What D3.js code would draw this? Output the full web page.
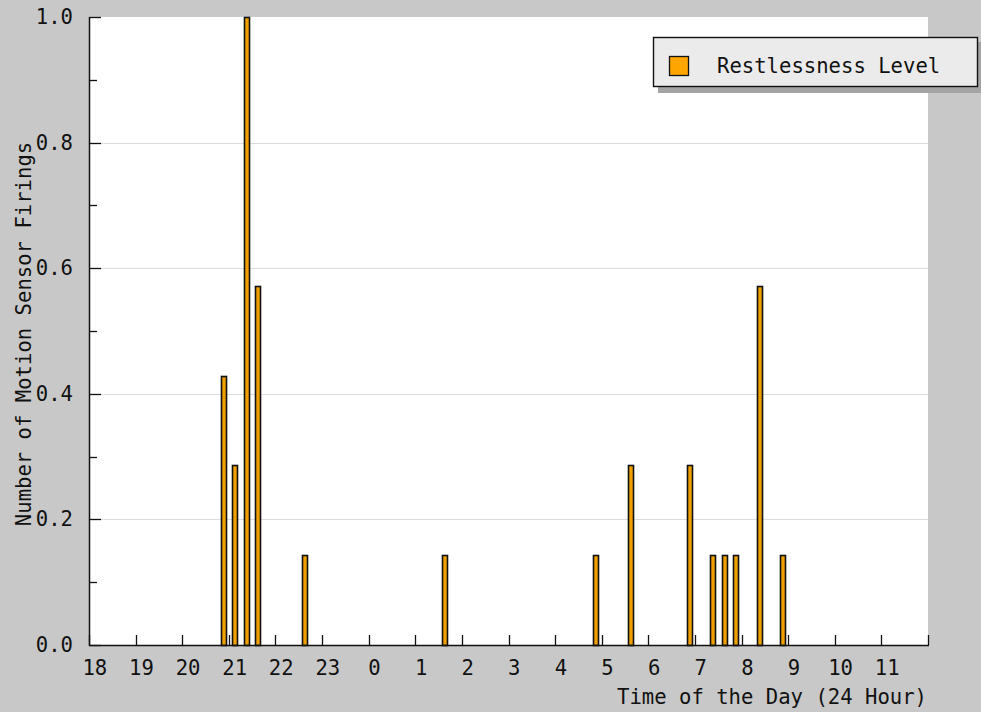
<!DOCTYPE html>
<html><head><meta charset="utf-8">
<script src="https://cdn.jsdelivr.net/npm/d3@7"></script>
<style>
body{margin:0;background:#c8c8c8;}
svg{display:block;}
text{font-family:"DejaVu Sans Mono","Liberation Mono",monospace;fill:#111;}
</style>
</head><body><svg id="c" width="981" height="712"></svg>
<script>
// ---- data ----
const hourLabels = ["18","19","20","21","22","23","0","1","2","3","4","5","6","7","8","9","10","11"];
const quarterLabels = ["00","15","30","45"];
const binStarts = ["20:45","21:00","21:15","21:30","22:30","01:30","04:45","05:30","06:45","07:15","07:30","07:45","08:15","08:45"];
const restlessness = [0.429,0.286,1.0,0.571,0.143,0.143,0.143,0.286,0.286,0.143,0.143,0.143,0.571,0.143];
const yTickValues = [0.0,0.2,0.4,0.6,0.8,1.0];
const yMinorValues = [0.1,0.3,0.5,0.7,0.9];
const seriesName = "Restlessness Level";
const yTitle = "Number of Motion Sensor Firings";
const xTitle = "Time of the Day (24 Hour)";

// ---- layout ----
const L = 89, R = 928, T = 17, B = 645;
const FS = 20.6;
const svg = d3.select("#c");
const fmtBin = (h, q) => h.padStart(2, "0") + ":" + q;
const bins = hourLabels.flatMap(h => quarterLabels.map(q => fmtBin(h, q)));
const x = d3.scaleBand().domain(bins).range([L, R]).padding(0);
const y = d3.scaleLinear().domain([0, 1]).range([B, T]);

// plot background
svg.append("rect").attr("x", L).attr("y", T).attr("width", R - L).attr("height", B - T).attr("fill", "#fff");

// grid
svg.append("g").selectAll("line").data(yTickValues.filter(v => v > 0 && v < 1)).join("line")
  .attr("x1", L).attr("x2", R).attr("y1", d => Math.round(y(d)) + 0.5).attr("y2", d => Math.round(y(d)) + 0.5)
  .attr("stroke", "#dcdcdc").attr("stroke-width", 1);

// bars
const data = binStarts.map((b, i) => ({bin: b, v: restlessness[i]}));
const bw = 5;
svg.append("g").selectAll("rect").data(data).join("rect")
  .attr("x", d => Math.round(x(d.bin) + x.bandwidth() / 2 - bw / 2) + 0.5)
  .attr("y", d => Math.round(y(d.v)) + 0.5)
  .attr("width", bw)
  .attr("height", d => Math.round(B - y(d.v)))
  .attr("fill", "#f0a000").attr("stroke", "#111").attr("stroke-width", 1.6);

// x ticks (every hour boundary + end)
const xTickPos = hourLabels.map(h => x(fmtBin(h, "00"))).concat([R]);
svg.append("g").selectAll("line").data(xTickPos).join("line")
  .attr("x1", d => Math.round(d) + 0.5).attr("x2", d => Math.round(d) + 0.5)
  .attr("y1", B).attr("y2", B - 10).attr("stroke", "#111").attr("stroke-width", 1.3);
svg.append("g").selectAll("text").data(hourLabels).join("text")
  .attr("x", h => x(fmtBin(h, "00")) + x.bandwidth() / 2)
  .attr("y", 675).attr("text-anchor", "middle").attr("font-size", FS).text(h => h);

// y ticks
svg.append("g").selectAll("line").data(yTickValues).join("line")
  .attr("x1", L).attr("x2", L + 12).attr("y1", d => Math.round(y(d)) + 0.5).attr("y2", d => Math.round(y(d)) + 0.5)
  .attr("stroke", "#111").attr("stroke-width", 1.3);
svg.append("g").selectAll("line").data(yMinorValues).join("line")
  .attr("x1", L).attr("x2", L + 8).attr("y1", d => Math.round(y(d)) + 0.5).attr("y2", d => Math.round(y(d)) + 0.5)
  .attr("stroke", "#111").attr("stroke-width", 1.3);
svg.append("g").selectAll("text").data(yTickValues).join("text")
  .attr("x", 73).attr("y", d => y(d) + 7).attr("text-anchor", "end").attr("font-size", FS)
  .text(d => d3.format(".1f")(d));

// axes lines
svg.append("line").attr("x1", L + 0.5).attr("x2", L + 0.5).attr("y1", T).attr("y2", B + 1).attr("stroke", "#111").attr("stroke-width", 1.5);
svg.append("line").attr("x1", L).attr("x2", R + 1).attr("y1", B + 0.5).attr("y2", B + 0.5).attr("stroke", "#111").attr("stroke-width", 1.5);

// titles
svg.append("text").attr("transform", `translate(31,${(T + B) / 2 + 3}) rotate(-90)`)
  .attr("text-anchor", "middle").attr("font-size", FS).text(yTitle);
svg.append("text").attr("x", 927).attr("y", 704).attr("text-anchor", "end").attr("font-size", FS).text(xTitle);

// legend
const lg = svg.append("g");
lg.append("rect").attr("x", 658).attr("y", 42).attr("width", 325).attr("height", 51).attr("fill", "#a4a4a4");
lg.append("rect").attr("x", 653.5).attr("y", 37.5).attr("width", 324).attr("height", 49).attr("fill", "#ebebeb").attr("stroke", "#111").attr("stroke-width", 1.4);
lg.append("rect").attr("x", 669.5).attr("y", 56.5).attr("width", 19).attr("height", 19).attr("fill", "#ffa500").attr("stroke", "#111").attr("stroke-width", 1.3);
lg.append("text").attr("x", 717).attr("y", 73).attr("font-size", FS).text(seriesName);
</script>
</body></html>
